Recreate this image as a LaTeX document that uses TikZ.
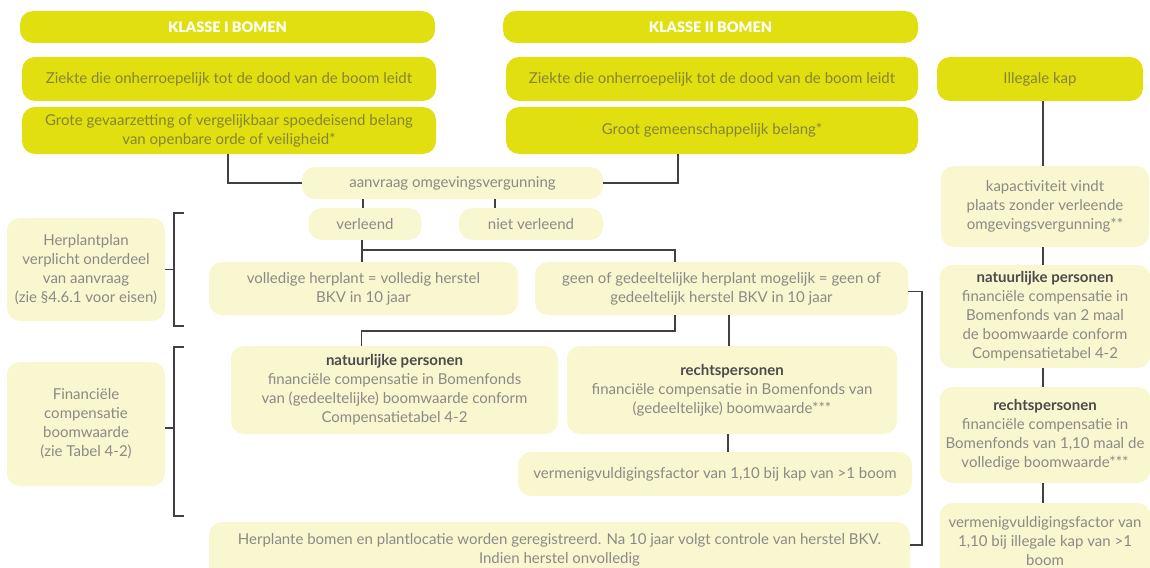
\documentclass[tikz,border=0pt]{standalone}
\usepackage{fontspec}
\setmainfont{Lato}
\newfontfamily\titlefont{Lato Black}
\definecolor{ybright}{HTML}{E2DF10}
\definecolor{ylight}{HTML}{F9F7CF}
\definecolor{ytext}{HTML}{85852E}
\definecolor{gtext}{HTML}{8A8A86}
\definecolor{btext}{HTML}{4A4A4A}
\definecolor{lcol}{HTML}{404040}
\tikzset{
  base/.style={rounded corners=13pt, inner sep=0pt, align=center, font=\fontsize{15}{19}\selectfont},
  hd/.style={base, fill=ybright, text=white, font=\titlefont\fontsize{14.5}{16}\selectfont},
  yb/.style={base, fill=ybright, text=ytext},
  lb/.style={base, fill=ylight, text=gtext},
  ln/.style={draw=lcol, line width=1.6pt},
}
\newcommand\hb[1]{{\bfseries\color{btext}#1}}
\begin{document}
\begin{tikzpicture}[x=1pt,y=-1pt]
\useasboundingbox (0,0) rectangle (1150,567);
% titles
\node[hd, minimum width=415, minimum height=32] (t1) at (227.5,27) {KLASSE I BOMEN};
\node[hd, minimum width=415, minimum height=32] (t2) at (710.5,27) {KLASSE II BOMEN};
% bright boxes
\node[yb, minimum width=414, minimum height=44] (a1) at (229,79) {Ziekte die onherroepelijk tot de dood van de boom leidt};
\node[yb, minimum width=414, minimum height=47] (a2) at (229,130.5) {Grote gevaarzetting of vergelijkbaar spoedeisend belang\\van openbare orde of veiligheid*};
\node[yb, minimum width=412, minimum height=44] (b1) at (712,79) {Ziekte die onherroepelijk tot de dood van de boom leidt};
\node[yb, minimum width=412, minimum height=47] (b2) at (712,130.5) {Groot gemeenschappelijk belang*};
\node[yb, minimum width=206, minimum height=44] (il) at (1040,79) {Illegale kap};
% middle column
\node[lb, minimum width=301, minimum height=32] (av) at (452.5,183) {aanvraag omgevingsvergunning};
\node[lb, minimum width=113, minimum height=32] (vl) at (365,224) {verleend};
\node[lb, minimum width=144, minimum height=32] (nv) at (531,224) {niet verleend};
\node[lb, minimum width=309, minimum height=53] (vo) at (363.5,288.5) {volledige herplant = volledig herstel\\BKV in 10 jaar};
\node[lb, minimum width=373, minimum height=53] (ge) at (721.5,288.5) {geen of gedeeltelijke herplant mogelijk = geen of\\gedeeltelijk herstel BKV in 10 jaar};
\node[lb, minimum width=327, minimum height=88] (np) at (394.5,390) {\hb{natuurlijke personen}\\financiële compensatie in Bomenfonds\\van (gedeeltelijke) boomwaarde conform\\Compensatietabel 4-2};
\node[lb, minimum width=330, minimum height=88] (rp) at (732,390) {\hb{rechtspersonen}\\financiële compensatie in Bomenfonds van\\(gedeeltelijke) boomwaarde***};
\node[lb, minimum width=394, minimum height=44] (vm) at (715,474) {vermenigvuldigingsfactor van 1,10 bij kap van >1 boom};
\node[lb, minimum width=701, minimum height=70] (hpb) at (559.5,557) {};
\node[base, text=gtext] (hp) at (559.5,549.5) {Herplante bomen en plantlocatie worden geregistreerd. Na 10 jaar volgt controle van herstel BKV.\\Indien herstel onvolledig};
% left column
\node[lb, minimum width=158, minimum height=103] (lp) at (86,269.5) {Herplantplan\\verplicht onderdeel\\van aanvraag\\(zie §4.6.1 voor eisen)};
\node[lb, minimum width=158, minimum height=124] (lf) at (86,424) {Financiële\\compensatie\\boomwaarde\\(zie Tabel 4-2)};
% right column
\node[lb, minimum width=208, minimum height=81] (ka) at (1045,206.5) {kapactiviteit vindt\\plaats zonder verleende\\omgevingsvergunning**};
\node[lb, minimum width=211, minimum height=103] (rn) at (1045,316.5) {\hb{natuurlijke personen}\\financiële compensatie in\\Bomenfonds van 2 maal\\de boomwaarde conform\\Compensatietabel 4-2};
\node[lb, minimum width=211, minimum height=96] (rr) at (1045,435) {\hb{rechtspersonen}\\financiële compensatie in\\Bomenfonds van 1,10 maal de\\volledige boomwaarde***};
\node[lb, minimum width=211, minimum height=77] (rv) at (1045,541.5) {vermenigvuldigingsfactor van\\1,10 bij illegale kap van >1\\boom};
% connectors
\draw[ln] ([xshift=-1pt]a2.south) |- (av.west);
\draw[ln] ([xshift=-34pt]b2.south) |- (av.east);
\draw[ln] ([xshift=-2pt]vl.north) -- ([xshift=-2pt]vl.north |- av.south);
\draw[ln] ([xshift=-36pt]nv.north) -- ([xshift=-36pt]nv.north |- av.south);
\draw[ln] ([xshift=-3pt]vl.south) -- ([xshift=-3pt]vl.south |- vo.north);
\draw[ln] ([xshift=-3pt,yshift=-10pt]vl.south) -| ([xshift=-46.5pt]ge.north);
\draw[ln] ([xshift=-46.5pt]ge.south) -- ++(0,16) -| ([xshift=-33pt]np.north);
\draw[ln] ([xshift=-3pt]rp.north) -- ([xshift=-3pt]rp.north |- ge.south);
\draw[ln] ([xshift=-4pt]rp.south) -- ([xshift=-4pt]rp.south |- vm.north);
\draw[ln] ([yshift=-3pt]ge.east) -- ++(13.5,0) |- ([yshift=12pt]hpb.east);
% brackets
\draw[ln] (lp.east) -- ++(9,0);
\draw[ln] ([shift={(19,-56.5)}]lp.east) -- ++(-10,0) -- ++(0,113) -- ++(10,0);
\draw[ln] ([yshift=-4pt]lf.east) -- ++(9,0);
\draw[ln] ([shift={(19,-77)}]lf.east) -- ++(-10,0) -- ++(0,169) -- ++(10,0);
% right column
\draw[ln] (ka.north -| 1043,0) -- (il.south -| 1043,0);
\draw[ln] (rn.north -| 1043,0) -- (ka.south -| 1043,0);
\draw[ln] (rr.north -| 1043,0) -- (rn.south -| 1043,0);
\draw[ln] (rv.north -| 1043,0) -- (rr.south -| 1043,0);
\end{tikzpicture}
\end{document}
